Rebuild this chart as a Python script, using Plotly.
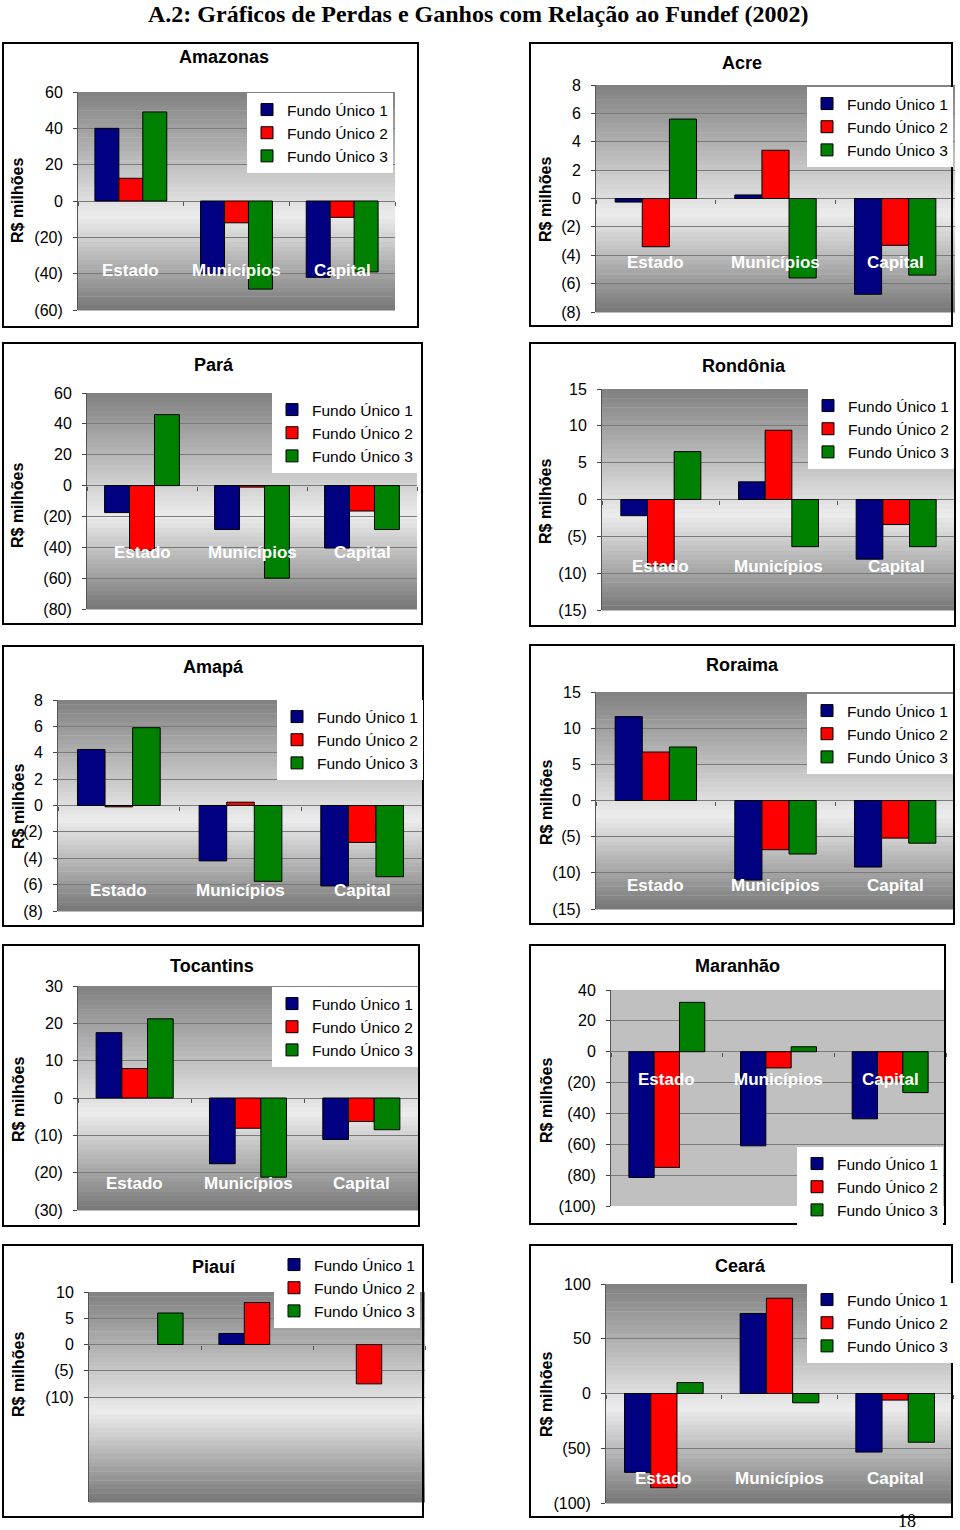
import plotly.graph_objects as go

W, H = 960, 1530

categories = ["Estado", "Municípios", "Capital"]
series_names = ["Fundo Único 1", "Fundo Único 2", "Fundo Único 3"]
series_colors = ["#000080", "#FF0000", "#008000"]

# ---- data (R$ milhões), one list per series: [Estado, Municípios, Capital]
amazonas_fu1 = [40, -40, -42]
amazonas_fu2 = [12.5, -12, -9]
amazonas_fu3 = [49, -48.5, -39]
acre_fu1 = [-0.25, 0.25, -6.75]
acre_fu2 = [-3.4, 3.4, -3.3]
acre_fu3 = [5.6, -5.6, -5.4]
para_fu1 = [-17.5, -28.5, -40.5]
para_fu2 = [-42, -1, -16.5]
para_fu3 = [46, -60, -28.5]
rondonia_fu1 = [-2.2, 2.4, -8.1]
rondonia_fu2 = [-9, 9.4, -3.4]
rondonia_fu3 = [6.5, -6.4, -6.4]
amapa_fu1 = [4.25, -4.2, -6.1]
amapa_fu2 = [-0.1, 0.25, -2.8]
amapa_fu3 = [5.9, -5.75, -5.4]
roraima_fu1 = [11.6, -11, -9.2]
roraima_fu2 = [6.7, -6.8, -5.2]
roraima_fu3 = [7.4, -7.4, -5.9]
tocantins_fu1 = [17.5, -17.6, -11.1]
tocantins_fu2 = [7.9, -8.1, -6.3]
tocantins_fu3 = [21.2, -21.2, -8.5]
maranhao_fu1 = [-81.5, -61, -43.5]
maranhao_fu2 = [-75, -10.5, -19]
maranhao_fu3 = [32, 3.2, -26.5]
piaui_fu1 = [None, 2.1, None]
piaui_fu2 = [None, 8.0, -7.5]
piaui_fu3 = [6.0, None, None]
ceara_fu1 = [-72, 73, -53.5]
ceara_fu2 = [-86, 87, -6]
ceara_fu3 = [10, -8.5, -44.5]

# ---- tick values per chart
amazonas_ticks = [60, 40, 20, 0, -20, -40, -60]
acre_ticks = [8, 6, 4, 2, 0, -2, -4, -6, -8]
para_ticks = [60, 40, 20, 0, -20, -40, -60, -80]
rondonia_ticks = [15, 10, 5, 0, -5, -10, -15]
amapa_ticks = [8, 6, 4, 2, 0, -2, -4, -6, -8]
roraima_ticks = [15, 10, 5, 0, -5, -10, -15]
tocantins_ticks = [30, 20, 10, 0, -10, -20, -30]
maranhao_ticks = [40, 20, 0, -20, -40, -60, -80, -100]
piaui_ticks = [10, 5, 0, -5, -10]
ceara_ticks = [100, 50, 0, -50, -100]

charts = [
    dict(name="Amazonas", vals=[amazonas_fu1, amazonas_fu2, amazonas_fu3], ticks=amazonas_ticks, rng=[-60, 60]),
    dict(name="Acre", vals=[acre_fu1, acre_fu2, acre_fu3], ticks=acre_ticks, rng=[-8, 8]),
    dict(name="Pará", vals=[para_fu1, para_fu2, para_fu3], ticks=para_ticks, rng=[-80, 60]),
    dict(name="Rondônia", vals=[rondonia_fu1, rondonia_fu2, rondonia_fu3], ticks=rondonia_ticks, rng=[-15, 15]),
    dict(name="Amapá", vals=[amapa_fu1, amapa_fu2, amapa_fu3], ticks=amapa_ticks, rng=[-8, 8]),
    dict(name="Roraima", vals=[roraima_fu1, roraima_fu2, roraima_fu3], ticks=roraima_ticks, rng=[-15, 15]),
    dict(name="Tocantins", vals=[tocantins_fu1, tocantins_fu2, tocantins_fu3], ticks=tocantins_ticks, rng=[-30, 30]),
    dict(name="Maranhão", vals=[maranhao_fu1, maranhao_fu2, maranhao_fu3], ticks=maranhao_ticks, rng=[-100, 40]),
    dict(name="Piauí", vals=[piaui_fu1, piaui_fu2, piaui_fu3], ticks=piaui_ticks, rng=[-30, 10]),
    dict(name="Ceará", vals=[ceara_fu1, ceara_fu2, ceara_fu3], ticks=ceara_ticks, rng=[-100, 100]),
]

# ---- layout geometry in page pixels (styling / positions only)
geom = [
    dict(box=(3, 43, 418, 327), plot=(78, 92, 395, 310), title=(224, 57), ytitle=(18, 201), leg=(393, 93), catfrac=0.18, catlabels=True, flat=False),
    dict(box=(530, 43, 952, 326), plot=(596, 85, 955, 312), title=(742, 63), ytitle=(546, 200), leg=(953, 87), catfrac=0.22, catlabels=True, flat=False),
    dict(box=(3, 343, 422, 624), plot=(87, 393, 417, 609), title=(214, 365), ytitle=(18, 506), leg=(418, 393), catfrac=0.26, catlabels=True, flat=False),
    dict(box=(530, 343, 955, 626), plot=(602, 389, 955, 610), title=(744, 366), ytitle=(546, 502), leg=(954, 389), catfrac=0.195, catlabels=True, flat=False),
    dict(box=(3, 646, 423, 926), plot=(58, 700, 423, 911), title=(213, 667), ytitle=(18, 807), leg=(423, 700), catfrac=0.095, catlabels=True, flat=False),
    dict(box=(530, 645, 954, 924), plot=(596, 692, 955, 909), title=(742, 665), ytitle=(546, 803), leg=(953, 694), catfrac=0.11, catlabels=True, flat=False),
    dict(box=(3, 945, 419, 1226), plot=(78, 986, 418, 1210), title=(212, 966), ytitle=(18, 1100), leg=(418, 987), catfrac=0.12, catlabels=True, flat=False),
    dict(box=(530, 945, 945, 1224), plot=(611, 990, 946, 1206), title=(737, 966), ytitle=(546, 1101), leg=(943, 1147), catfrac=0.585, catlabels=True, flat=True),
    dict(box=(3, 1245, 423, 1517), plot=(89, 1292, 425, 1502), title=(214, 1267), ytitle=(18, 1375), leg=(420, 1248), catfrac=0.0, catlabels=False, flat=False),
    dict(box=(530, 1245, 952, 1517), plot=(606, 1284, 953, 1503), title=(740, 1266), ytitle=(546, 1395), leg=(953, 1283), catfrac=0.11, catlabels=True, flat=False),
]

FONT = "Liberation Sans, Arial, sans-serif"


def px_x(v):
    return v / W


def px_y(v):
    return 1 - v / H


def fmt(v):
    return f"({abs(v):g})" if v < 0 else f"{v:g}"


def grad_color(t):
    t0 = 0.57
    dark_top, dark_bot, light = 128, 118, 236
    if t <= t0:
        c = dark_top + (light - dark_top) * (t / t0)
    else:
        c = light + (dark_bot - light) * ((t - t0) / (1 - t0))
    c = int(round(c))
    return f"rgb({c},{c},{c})"


fig = go.Figure()
layout = dict(
    width=W, height=H, margin=dict(l=0, r=0, t=0, b=0, pad=0, autoexpand=False),
    paper_bgcolor="white", showlegend=True, barmode="group",
    bargap=0.32, bargroupgap=0, font=dict(family=FONT, color="black"),
)
shapes = []
annotations = []

for i, (ch, g) in enumerate(zip(charts, geom)):
    k = i + 1
    xa = "x" if k == 1 else f"x{k}"
    ya = "y" if k == 1 else f"y{k}"
    leg = "legend" if k == 1 else f"legend{k}"
    for s in range(3):
        fig.add_trace(go.Bar(
            x=categories, y=ch["vals"][s], name=series_names[s],
            marker=dict(color=series_colors[s], line=dict(color="black", width=1)),
            xaxis=xa, yaxis=ya, legend=leg, showlegend=True, hoverinfo="x+y+name",
        ))
    l, t, r, b = g["plot"]
    ydom = [px_y(b), px_y(t)]
    lo, hi = ch["rng"]
    zero_pos = ydom[0] + (0 - lo) / (hi - lo) * (ydom[1] - ydom[0])
    layout[f"xaxis{'' if k == 1 else k}"] = dict(
        domain=[px_x(l), px_x(r)], anchor="free", position=zero_pos,
        range=[-0.5, 2.5], type="category", showticklabels=False,
        ticks="outside", tickson="boundaries", ticklen=4, tickcolor="#555",
        showgrid=False, showline=False, zeroline=False, fixedrange=True, automargin=False,
    )
    layout[f"yaxis{'' if k == 1 else k}"] = dict(
        domain=ydom, anchor=xa, range=[lo, hi],
        tickvals=ch["ticks"], ticktext=[fmt(v) for v in ch["ticks"]],
        tickfont=dict(size=16, family=FONT, color="black"),
        ticks="outside", ticklen=4, tickcolor="#444", ticklabelstandoff=7,
        showgrid=True, gridcolor="#7a7a7a", gridwidth=1,
        zeroline=True, zerolinecolor="#7a7a7a", zerolinewidth=1,
        showline=True, linecolor="#555", linewidth=1, fixedrange=True, automargin=False,
    )
    layout[leg] = dict(
        x=px_x(g["leg"][0]), y=px_y(g["leg"][1]), xanchor="right", yanchor="top",
        bgcolor="white", borderwidth=0, font=dict(size=15.5, family=FONT),
        tracegroupgap=0, itemwidth=30, traceorder="normal",
    )
    # chart frame
    bx0, by0, bx1, by1 = g["box"]
    shapes.append(dict(type="rect", xref="paper", yref="paper",
                       x0=px_x(bx0), x1=px_x(bx1), y0=px_y(by1), y1=px_y(by0),
                       line=dict(color="black", width=2), fillcolor="rgba(0,0,0,0)", layer="above"))
    # plot-area background (gradient)
    if g["flat"]:
        shapes.append(dict(type="rect", xref=f"{xa} domain", yref=f"{ya} domain",
                           x0=0, x1=1, y0=0, y1=1, line=dict(width=0),
                           fillcolor="#c0c0c0", layer="below"))
    else:
        n = 48
        for j in range(n):
            tt = (j + 0.5) / n
            shapes.append(dict(type="rect", xref=f"{xa} domain", yref=f"{ya} domain",
                               x0=0, x1=1, y0=1 - (j + 1) / n - 0.002, y1=1 - j / n,
                               line=dict(width=0), fillcolor=grad_color(tt), layer="below"))
    # chart title
    annotations.append(dict(text=f"<b>{ch['name']}</b>", x=px_x(g["title"][0]), y=px_y(g["title"][1]),
                            xref="paper", yref="paper", showarrow=False,
                            font=dict(size=18, family=FONT, color="black"),
                            xanchor="center", yanchor="middle"))
    # y axis title
    annotations.append(dict(text="<b>R$ milhões</b>", x=px_x(g["ytitle"][0]), y=px_y(g["ytitle"][1]),
                            xref="paper", yref="paper", showarrow=False, textangle=-90,
                            font=dict(size=16, family=FONT, color="black"),
                            xanchor="center", yanchor="middle"))
    # category labels inside plot
    if g["catlabels"]:
        for c in categories:
            annotations.append(dict(text=f"<b>{c}</b>", x=c, xref=xa, y=g["catfrac"], yref=f"{ya} domain",
                                    showarrow=False, font=dict(size=17, family=FONT, color="white"),
                                    xanchor="center", yanchor="middle"))

annotations.append(dict(text="<b>A.2: Gráficos de Perdas e Ganhos com Relação ao Fundef (2002)</b>",
                        x=px_x(478), y=1.0, xref="paper", yref="paper", showarrow=False,
                        font=dict(size=24, family="Liberation Serif, Times New Roman, serif", color="black"),
                        xanchor="center", yanchor="top", borderpad=0))
annotations.append(dict(text="18", x=px_x(907), y=px_y(1521), xref="paper", yref="paper", showarrow=False,
                        font=dict(size=18, family="Liberation Serif, Times New Roman, serif", color="black"),
                        xanchor="center", yanchor="middle"))

layout["shapes"] = shapes
layout["annotations"] = annotations
fig.update_layout(**layout)

post = (
    "document.documentElement.style.margin='0px';"
    "document.documentElement.style.padding='0px';"
    "document.documentElement.style.overflow='hidden';"
    "document.body.style.margin='0px';"
    "document.body.style.padding='0px';"
    "document.body.style.overflow='hidden';"
    "var d=document.getElementById('{plot_id}');"
    "d.style.position='absolute';d.style.top='0px';d.style.left='0px';"
)
fig.write_html("out.html", config={"displayModeBar": False}, post_script=post)
